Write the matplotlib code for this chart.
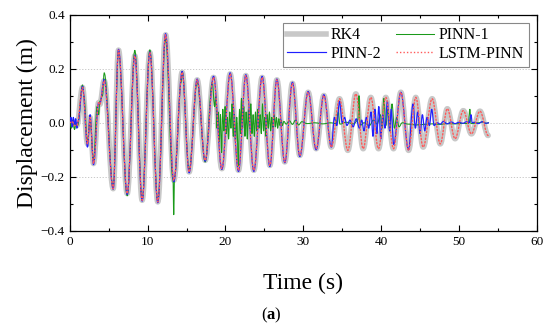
import matplotlib
matplotlib.use("Agg")
import matplotlib.pyplot as plt
from matplotlib.ticker import MultipleLocator
from matplotlib.path import Path
from matplotlib.patches import PathPatch
from matplotlib.lines import Line2D

plt.rcParams['font.family'] = ['Liberation Serif', 'DejaVu Serif']
plt.rcParams['mathtext.fontset'] = 'custom'
plt.rcParams['mathtext.rm'] = 'Liberation Serif'
plt.rcParams['mathtext.bf'] = 'Liberation Serif:bold'

# ---- RK4 reference solution (local extrema) ----
rk4_t = [0, 0.3, 0.6, 0.9, 1.63, 2.27, 2.6, 3.04, 3.7, 3.85, 4.41, 5.57, 6.25, 7.37,
         8.35, 9.29, 10.28, 11.3, 12.3, 13.36, 14.43, 15.33, 16.36, 17.39, 18.46, 19.53,
         20.6, 21.67, 22.61, 23.64, 24.71, 25.7, 26.6, 27.62, 28.6, 29.55, 30.62, 31.65,
         32.64, 33.6, 34.65, 35.72, 36.75, 37.69, 38.67, 39.66, 40.6, 41.59, 42.53, 43.52,
         44.45, 45.4, 46.55, 47.6, 48.5, 49.5, 50.55, 51.6, 52.7, 53.75]
rk4_v = [0, 0.005, -0.01, -0.01, 0.131, -0.078, 0.02, -0.151, 0.075, 0.068, 0.156, -0.244,
         0.269, -0.262, 0.248, -0.287, 0.26, -0.293, 0.326, -0.213, 0.187, -0.182, 0.159,
         -0.139, 0.168, -0.17, 0.181, -0.176, 0.175, -0.176, 0.168, -0.158, 0.159, -0.145,
         0.146, -0.121, 0.113, -0.096, 0.101, -0.09, 0.089, -0.102, 0.107, -0.096, 0.094,
         -0.096, 0.094, -0.096, 0.113, -0.102, 0.094, -0.09, 0.089, -0.078, 0.052, -0.059,
         0.045, -0.041, 0.043, -0.047]

# ---- LSTM-PINN (overlaps RK4) ----
lstm_t = list(rk4_t)
lstm_v = list(rk4_v)

# ---- PINN-2 ----
pinn2_t = [0, 0.15, 0.3, 0.45, 0.6, 0.75, 0.9, 1.05, 1.63, 2.27, 2.6, 3.04, 3.7, 3.85, 4.41,
           5.57, 6.25, 7.37, 8.35, 9.29, 10.28, 11.3, 12.3, 13.36, 14.43, 15.33, 16.36,
           17.39, 18.46, 19.53, 20.6, 21.67, 22.61, 23.64, 24.71, 25.7, 26.6, 27.62, 28.6,
           29.55, 30.62, 31.65, 32.64, 33.6,
           34.0, 34.3, 34.65, 35.0, 35.3, 35.6, 36.0, 36.4, 36.8, 37.2, 37.5, 37.8, 38.1,
           38.4, 38.7, 38.95, 39.2, 39.45, 39.7, 39.95, 40.2, 40.5, 40.8, 41.1, 41.3, 41.6,
           42.53, 43.52, 44.1, 44.4, 44.7, 45.0, 45.3, 45.6, 45.9, 46.2, 46.5, 46.8, 47.2,
           47.6, 48.0, 48.5, 49.0, 49.5, 50.0, 50.5, 51.0, 51.3, 51.55, 51.7, 52.0, 52.5,
           53.0, 53.5, 53.8]
pinn2_v = [0, 0.02, -0.015, 0.02, -0.01, 0.015, -0.02, 0.005, 0.135, -0.09, 0.03, -0.155,
           0.075, 0.07, 0.16, -0.246, 0.272, -0.265, 0.25, -0.29, 0.262, -0.296, 0.33,
           -0.218, 0.19, -0.185, 0.162, -0.142, 0.172, -0.173, 0.185, -0.18, 0.178, -0.18,
           0.172, -0.162, 0.162, -0.148, 0.15, -0.125, 0.116, -0.1, 0.104, -0.09,
           0.02, -0.01, 0.08, 0.0, 0.02, -0.01, 0.01, -0.015, 0.015, -0.02, 0.01, -0.03,
           0.02, -0.02, 0.04, -0.05, 0.05, -0.04, 0.06, -0.06, 0.03, -0.02, 0.08, -0.03,
           0.05, -0.08, 0.113, -0.1, 0.07, -0.02, 0.04, -0.04, 0.03, -0.03, 0.02, -0.01,
           0.05, -0.01, 0.0, -0.005, 0.005, -0.004, 0.003, -0.003, 0.002, -0.002, 0.004,
           0.0, 0.03, 0.0, 0.002, -0.003, 0.004, -0.002, 0.0]

# ---- PINN-1 ----
pinn1_t = [0, 0.2, 0.4, 0.6, 0.8, 1.0, 1.63, 1.8, 2.27, 2.6, 3.04, 3.5, 3.7, 3.85, 4.2, 4.41,
           5.57, 6.25, 7.37, 8.35, 9.29, 10.28, 11.3, 12.3, 13.25, 13.35, 13.45, 14.3, 14.43,
           15.33, 16.36, 17.39, 18.3,
           18.6, 18.75, 18.9, 19.05, 19.2, 19.35, 19.5, 19.65, 19.8, 19.95, 20.1, 20.25,
           20.4, 20.55, 20.7, 20.85, 21.0, 21.15, 21.3, 21.45, 21.65, 21.8, 21.95, 22.05,
           22.2, 22.35, 22.5, 22.65, 22.8, 22.95, 23.1, 23.25, 23.4, 23.55, 23.7, 23.85,
           24.0, 24.15, 24.3, 24.45, 24.6, 24.75, 24.9, 25.05, 25.2, 25.35, 25.5, 25.65,
           25.8, 25.95, 26.1, 26.25, 26.4, 26.55, 26.7, 26.85, 27.0, 27.15, 27.3, 27.5,
           27.8, 28.2, 28.6, 29.0, 29.4, 29.8, 30.5, 31.5, 32.5, 33.5, 34.2, 34.5, 34.7,
           35.5, 36.5, 37.0, 37.15, 37.3, 37.8, 38.5, 39.0, 39.5, 39.9, 40.1, 40.35, 40.6,
           40.9, 41.1, 41.4, 41.7, 42.0, 42.3, 42.7, 43.5, 44.5, 45.5, 46.5, 47.5, 48.5,
           49.5, 50.5, 51.2, 51.4, 51.55, 52.5, 53.0, 53.5, 53.8]
pinn1_v = [0, -0.02, 0.01, -0.025, 0.0, -0.01, 0.14, 0.1, -0.07, 0.01, -0.14, 0.06, 0.03,
           0.08, 0.1, 0.185, -0.24, 0.265, -0.27, 0.268, -0.285, 0.27, -0.29, 0.31, -0.21,
           -0.34, -0.2, 0.15, 0.19, -0.175, 0.15, -0.145, 0.15,
           0.06, 0.10, -0.02, 0.04, -0.07, 0.03, -0.11, 0.05, -0.03, 0.06, -0.04, 0.02,
           -0.06, 0.04, -0.02, 0.07, -0.05, 0.03, -0.07, 0.02, -0.16, 0.05, -0.04, 0.09,
           -0.02, 0.06, -0.05, 0.04, -0.06, 0.05, -0.02, 0.07, -0.04, 0.03, -0.05, 0.04,
           -0.03, 0.05, -0.02, 0.03, -0.04, 0.07, -0.03, 0.02, -0.05, 0.03, -0.02, 0.04,
           -0.03, 0.02, -0.02, 0.03, -0.015, 0.02, -0.02, 0.015, -0.01, 0.01, -0.01, 0.005,
           -0.005, 0.008, -0.006, 0.01, -0.008, 0.004, -0.003, 0.0, -0.004, 0.0, -0.003, 0.04,
           -0.005, 0.002, -0.004, 0.01, 0.1, -0.01, 0.0, -0.01, 0.01, -0.005, 0.03, -0.02,
           0.09, -0.01, 0.05, -0.03, 0.07, -0.02, 0.02, -0.015, 0.0, -0.005, -0.008, -0.006,
           -0.004, -0.006, -0.003, -0.004, -0.002, -0.003, 0.05, -0.003, 0.0, 0.003, -0.002,
           0.0]


def smooth_path(t, v, k=0.363):
    """Cubic-Bezier path through the given extrema (flat tangent at each point)."""
    verts = [(t[0], v[0])]
    codes = [Path.MOVETO]
    for i in range(len(t) - 1):
        dt = t[i + 1] - t[i]
        verts += [(t[i] + k * dt, v[i]), (t[i + 1] - k * dt, v[i + 1]), (t[i + 1], v[i + 1])]
        codes += [Path.CURVE4] * 3
    return Path(verts, codes)


fig = plt.figure(figsize=(5.5, 3.27), dpi=100)
ax = fig.add_axes([0.127, 0.294, 0.849, 0.661])

styles = [
    (rk4_t, rk4_v, dict(edgecolor='#c8c8c8', lw=4.0, ls='-', zorder=2), 'RK4'),
    (pinn1_t, pinn1_v, dict(edgecolor='#1a9a1a', lw=0.75, ls='-', zorder=3), 'PINN-1'),
    (pinn2_t, pinn2_v, dict(edgecolor='#1f1fff', lw=0.85, ls='-', zorder=4), 'PINN-2'),
    (lstm_t, lstm_v, dict(edgecolor='#ff5a5a', lw=1.0, ls=(0, (1, 1.5)), zorder=5), 'LSTM-PINN'),
]
handles = {}
for t, v, st, name in styles:
    patch = PathPatch(smooth_path(t, v), facecolor='none', joinstyle='round',
                      capstyle='round', transform=ax.transData, **st)
    ax.add_patch(patch)
    handles[name] = Line2D([], [], color=st['edgecolor'], lw=st['lw'], ls=st['ls'])

ax.set_xlim(0, 60)
ax.set_ylim(-0.4, 0.4)
ax.xaxis.set_major_locator(MultipleLocator(10))
ax.xaxis.set_minor_locator(MultipleLocator(5))
ax.yaxis.set_major_locator(MultipleLocator(0.2))
ax.yaxis.set_minor_locator(MultipleLocator(0.1))
ax.tick_params(which='both', direction='in', top=True, right=True, labelsize=9.5)
ax.tick_params(which='major', length=4, width=0.8)
ax.tick_params(which='minor', length=2.5, width=0.8)
ax.set_yticks([-0.4, -0.2, 0.0, 0.2, 0.4])
ax.set_yticklabels(['\u22120.4', '\u22120.2', '0.0', '0.2', '0.4'])
for y in (-0.2, 0.0, 0.2):
    ax.axhline(y, color='#c0c0c0', lw=0.6, ls=(0, (1.5, 2)), zorder=1)
for s in ax.spines.values():
    s.set_linewidth(0.9)

ax.set_xlabel('Time (s)', fontsize=17, labelpad=18)
ax.set_ylabel('Displacement (m)', fontsize=17, labelpad=2)

leg = ax.legend(handles=[handles['RK4'], handles['PINN-2'], handles['PINN-1'],
                         handles['LSTM-PINN']],
                labels=['RK4', 'PINN-2', 'PINN-1', 'LSTM-PINN'],
                ncol=2, loc='upper right',
                fontsize=11.5, frameon=True, fancybox=False, edgecolor='#888888',
                framealpha=1, borderaxespad=0.5, handlelength=2.4, columnspacing=0.9,
                handletextpad=0.3, labelspacing=0.15, borderpad=0.3)
leg.get_frame().set_linewidth(0.8)

fig.text(0.494, 0.005, r'$\mathrm{(}\mathbf{a}\mathrm{)}$', ha='center', va='bottom', fontsize=12)

fig.savefig('out.png', dpi=100)
